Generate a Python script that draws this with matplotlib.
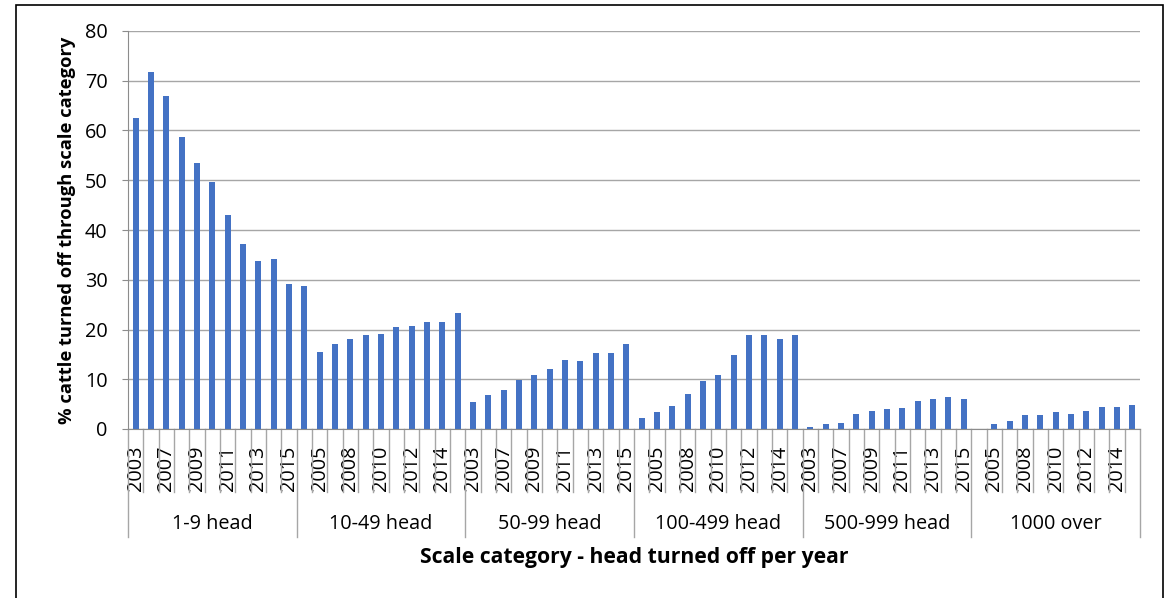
import matplotlib.pyplot as plt
import numpy as np
from matplotlib.patches import Rectangle

plt.rcParams['font.family'] = ['Open Sans', 'DejaVu Sans']

# scale categories and years (same years repeat inside every category)
groups = ['1-9 head', '10-49 head', '50-99 head', '100-499 head', '500-999 head', '1000 over']
years = ['2003', '2005', '2007', '2008', '2009', '2010', '2011', '2012', '2013', '2014', '2015']

# % cattle turned off through each scale category, per year
head_1_9 = [62.6, 71.7, 67.0, 58.7, 53.4, 49.7, 43.0, 37.2, 33.8, 34.1, 29.2]
head_10_49 = [28.7, 15.4, 17.0, 18.1, 18.9, 19.1, 20.5, 20.7, 21.5, 21.5, 23.4]
head_50_99 = [5.4, 6.8, 7.9, 9.8, 10.9, 12.1, 13.9, 13.6, 15.2, 15.3, 17.1]
head_100_499 = [2.2, 3.4, 4.7, 7.0, 9.6, 10.9, 14.9, 18.8, 18.9, 18.0, 18.8]
head_500_999 = [0.5, 1.0, 1.3, 3.1, 3.7, 4.1, 4.3, 5.7, 6.1, 6.4, 6.1]
head_1000_over = [0.0, 1.1, 1.7, 2.8, 2.9, 3.5, 3.0, 3.7, 4.5, 4.4, 4.9]

series = [head_1_9, head_10_49, head_50_99, head_100_499, head_500_999, head_1000_over]
values = [v for s in series for v in s]
labels = years * len(groups)
n = len(values)
x = np.arange(n)
per_group = len(years)

W, H = 1171, 598
fig = plt.figure(figsize=(W / 100, H / 100), dpi=100)
ax = fig.add_axes([128 / W, (H - 429) / H, 1012 / W, 398 / H])

grey = '#A6A6A6'
ax.bar(x, values, width=0.4, color='#4472C4')
ax.set_xlim(-0.5, n - 0.5)
ax.set_ylim(0, 80)
ax.set_yticks(range(0, 81, 10))
ax.yaxis.grid(True, color=grey, linewidth=1)
ax.set_axisbelow(True)
for s in ['top', 'right']:
    ax.spines[s].set_visible(False)
ax.spines['left'].set_color('#8C8C8C')
ax.spines['bottom'].set_color('#8C8C8C')
ax.tick_params(axis='y', length=4.3, color='#8C8C8C', labelsize=14.3, pad=10.5)

ax.set_xticks(x[::2])
ax.set_xticklabels(labels[::2], rotation=90)
ax.tick_params(axis='x', length=0, labelsize=14.3, pad=12)

# category divider lines below the axis
trans = ax.get_xaxis_transform()
for b in np.arange(-0.5, n, 1):
    bottom = -0.271 if round(b + 0.5) % per_group == 0 else -0.158
    ax.plot([b, b], [0, bottom], transform=trans, color=grey, lw=1, clip_on=False)

for i, g in enumerate(groups):
    ax.text(i * per_group + (per_group - 1) / 2, -0.238, g, transform=trans,
            ha='center', va='center', fontsize=14.3)

ax.text(0.5, -0.322, 'Scale category - head turned off per year', transform=ax.transAxes,
        ha='center', va='center', fontsize=15.2, fontweight='bold')
fig.text(67 / W, 1 - 230 / H, '% cattle turned off through scale category', rotation=90,
         ha='center', va='center', fontsize=13.2, fontweight='bold')

# outer chart border
fig.patches.append(Rectangle((16 / W, -0.01), (1163 - 16) / W, 1.01 - 5 / H,
                             transform=fig.transFigure, fill=False, edgecolor='black', lw=1.2))

fig.savefig('out.png', dpi=100)
